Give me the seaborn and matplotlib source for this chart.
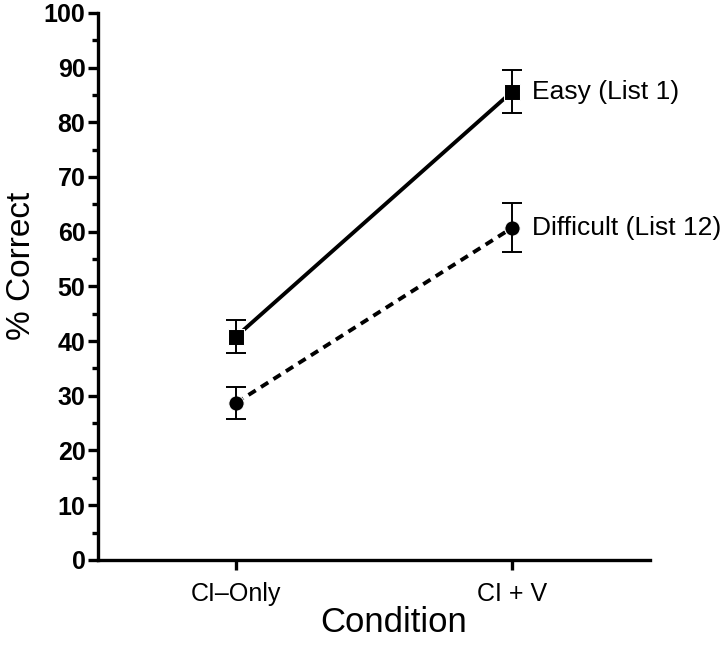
import matplotlib
matplotlib.use("Agg")
import matplotlib.pyplot as plt
import numpy as np
import pandas as pd
import seaborn as sns
from matplotlib.ticker import MultipleLocator

conditions = ["CI\u2013Only", "CI + V"]
easy_mean = [40.8, 85.6]
easy_err = [3.0, 3.9]
difficult_mean = [28.7, 60.7]
difficult_err = [2.9, 4.5]
series_labels = ["Easy (List 1)", "Difficult (List 12)"]

df = pd.DataFrame({
    "pos": [0, 1, 0, 1],
    "pct": easy_mean + difficult_mean,
    "err": easy_err + difficult_err,
    "list": [series_labels[0]] * 2 + [series_labels[1]] * 2,
})

sns.set_theme(style="ticks", rc={"text.color": "black", "axes.labelcolor": "black",
                                 "xtick.color": "black", "ytick.color": "black",
                                 "axes.edgecolor": "black"})
plt.rcParams["font.family"] = ["Liberation Sans", "DejaVu Sans"]

fig = plt.figure(figsize=(7.28, 6.45), dpi=100)
ax = fig.add_axes([0.1346, 0.132, 0.893 - 0.1346, 0.980 - 0.132])

sns.lineplot(
    data=df, x="pos", y="pct", style="list", markers={series_labels[0]: "s", series_labels[1]: "o"},
    dashes={series_labels[0]: "", series_labels[1]: (2.2, 1.6)},
    color="black", linewidth=2.8, markersize=11, legend=False, ax=ax,
)

for name, grp in df.groupby("list"):
    ax.errorbar(grp["pos"], grp["pct"], yerr=grp["err"], fmt="none",
                ecolor="black", elinewidth=1.4, capsize=7, capthick=1.4)
    last = grp.iloc[-1]
    ax.text(last["pos"] + 0.073, last["pct"], name, fontsize=19, va="center", ha="left")

ax.set_xlim(-0.5, 1.5)
ax.set_ylim(0, 100)
ax.set_xticks([0, 1])
ax.set_xticklabels(conditions, fontsize=18)
ax.yaxis.set_major_locator(MultipleLocator(10))
ax.yaxis.set_minor_locator(MultipleLocator(5))
for lab in ax.get_yticklabels():
    lab.set_fontweight("bold")
    lab.set_fontsize(18)

ax.set_xlabel("Condition", fontsize=25)
ax.set_ylabel("% Correct", fontsize=24)
# labels sit a little off-centre in the original
ax.xaxis.set_label_coords(0.535, -0.085)
ax.yaxis.set_label_coords(-0.11, 0.537)

for side in ["top", "right"]:
    ax.spines[side].set_visible(False)
for side in ["left", "bottom"]:
    ax.spines[side].set_linewidth(2.4)
ax.tick_params(axis="both", which="major", length=7, width=2.4)
ax.tick_params(axis="y", which="minor", length=4, width=2.4)
ax.tick_params(axis="y", pad=2)
ax.tick_params(axis="x", pad=9)
for ln in ax.lines:
    ln.set_clip_on(False)

fig.savefig("out.png", dpi=100)
